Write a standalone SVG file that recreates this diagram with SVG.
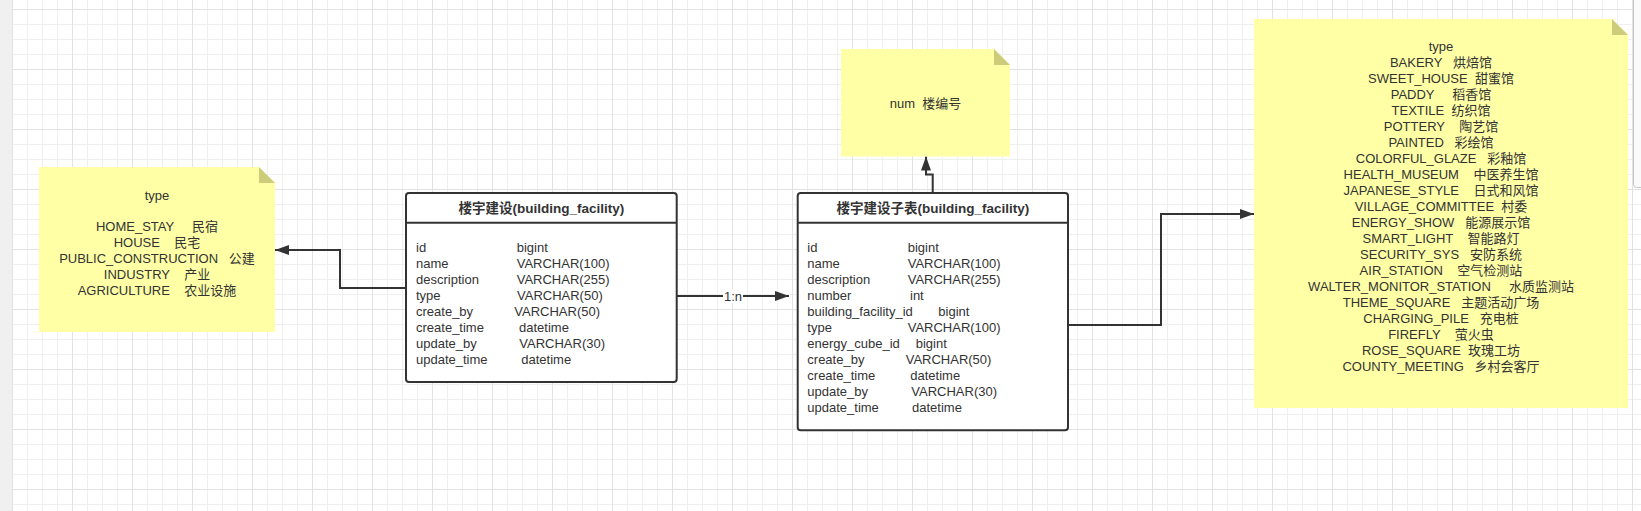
<svg xmlns="http://www.w3.org/2000/svg" width="1641" height="511" viewBox="0 0 1641 511">
<style>
.t{font-family:"Liberation Sans","Noto Sans CJK SC",sans-serif;font-size:13px;fill:#333;white-space:pre}
.c{text-anchor:middle}
.b{font-weight:bold;font-size:13.5px}
.note{fill:#ffffa6}
.fold{fill:#cccc7a}
.tbl{fill:#fff;stroke:#333;stroke-width:2}
.sep{stroke:#333;stroke-width:2}
.edge{fill:none;stroke:#333;stroke-width:2}
</style>
<defs>
<pattern id="grid" x="12" y="9" width="60" height="60" patternUnits="userSpaceOnUse">
<path d="M15.5,0V60M30.5,0V60M45.5,0V60M0,15.5H60M0,30.5H60M0,45.5H60" stroke="#efefef" stroke-width="1" fill="none"/>
<path d="M0.5,0V60M0,0.5H60" stroke="#e2e2e2" stroke-width="1" fill="none"/>
</pattern>
<marker id="arr" viewBox="0 0 14 10" markerWidth="14" markerHeight="10" refX="14" refY="5" orient="auto" markerUnits="userSpaceOnUse">
<path d="M0,0L14,5L0,10Z" fill="#333"/>
</marker>
</defs>
<rect width="1641" height="511" fill="#fff"/>
<rect width="1641" height="511" fill="url(#grid)"/>
<rect x="0" y="0" width="12" height="511" fill="#f0f0f0"/>
<rect x="1633.5" y="-4" width="14" height="191.5" rx="3" fill="#fafafa" stroke="#c6c6c6"/>

<g id="edges">
<path class="edge" d="M406,288H340V250H275" marker-end="url(#arr)"/>
<path class="edge" d="M677,296H789" marker-end="url(#arr)"/>
<rect x="723" y="289" width="20" height="14" fill="#fff"/>
<text class="t c" x="733" y="301">1:n</text>
<path class="edge" d="M932.7,193V174.5H926V156.5" marker-end="url(#arr)"/>
<path class="edge" d="M1068,325H1161V214H1254" marker-end="url(#arr)"/>
</g>

<g id="note-left-type">
<path class="note" d="M39,167H259L275,183V332H39Z"/>
<path class="fold" d="M259,167L275,183H259Z"/>
<text class="t c" x="157" y="199.5">type</text>
<text class="t c" x="157" y="231">HOME_STAY     民宿</text>
<text class="t c" x="157" y="247">HOUSE    民宅</text>
<text class="t c" x="157" y="263">PUBLIC_CONSTRUCTION   公建</text>
<text class="t c" x="157" y="279">INDUSTRY    产业</text>
<text class="t c" x="157" y="295">AGRICULTURE    农业设施</text>
</g>

<g id="table-building-facility">
<rect class="tbl" x="406" y="193" width="270.7" height="189" rx="3"/>
<line class="sep" x1="406" y1="222.7" x2="676.7" y2="222.7"/>
<text class="t c b" x="541.3" y="212.5">楼宇建设(building_facility)</text>
<text class="t" x="416" y="252">id<tspan x="516.7">bigint</tspan></text>
<text class="t" x="416" y="268">name<tspan x="516.7">VARCHAR(100)</tspan></text>
<text class="t" x="416" y="284">description<tspan x="516.7">VARCHAR(255)</tspan></text>
<text class="t" x="416" y="300">type<tspan x="517">VARCHAR(50)</tspan></text>
<text class="t" x="416" y="316">create_by<tspan x="514.3">VARCHAR(50)</tspan></text>
<text class="t" x="416" y="332">create_time<tspan x="519">datetime</tspan></text>
<text class="t" x="416" y="348">update_by<tspan x="519.3">VARCHAR(30)</tspan></text>
<text class="t" x="416" y="364">update_time<tspan x="521.3">datetime</tspan></text>
</g>

<g id="table-building-facility-sub">
<rect class="tbl" x="797.7" y="193" width="270.3" height="237.3" rx="3"/>
<line class="sep" x1="797.7" y1="222.7" x2="1068" y2="222.7"/>
<text class="t c b" x="932.8" y="212.5">楼宇建设子表(building_facility)</text>
<text class="t" x="807.3" y="252">id<tspan x="907.7">bigint</tspan></text>
<text class="t" x="807.3" y="268">name<tspan x="907.7">VARCHAR(100)</tspan></text>
<text class="t" x="807.3" y="284">description<tspan x="907.7">VARCHAR(255)</tspan></text>
<text class="t" x="807.3" y="300">number<tspan x="910">int</tspan></text>
<text class="t" x="807.3" y="316">building_facility_id<tspan x="938.3">bigint</tspan></text>
<text class="t" x="807.3" y="332">type<tspan x="907.7">VARCHAR(100)</tspan></text>
<text class="t" x="807.3" y="348">energy_cube_id<tspan x="915.7">bigint</tspan></text>
<text class="t" x="807.3" y="364">create_by<tspan x="905.7">VARCHAR(50)</tspan></text>
<text class="t" x="807.3" y="380">create_time<tspan x="910.3">datetime</tspan></text>
<text class="t" x="807.3" y="396">update_by<tspan x="911.3">VARCHAR(30)</tspan></text>
<text class="t" x="807.3" y="412">update_time<tspan x="912">datetime</tspan></text>
</g>

<g id="note-num">
<path class="note" d="M841,49H994L1010,65V156.5H841Z"/>
<path class="fold" d="M994,49L1010,65H994Z"/>
<text class="t c" x="925.5" y="108.3">num  楼编号</text>
</g>

<g id="note-right-type">
<path class="note" d="M1254,19H1612L1628,35V408H1254Z"/>
<path class="fold" d="M1612,19L1628,35H1612Z"/>
<text class="t c" x="1441" y="50.7">type</text>
<text class="t c" x="1441" y="66.7">BAKERY   烘焙馆</text>
<text class="t c" x="1441" y="82.7">SWEET_HOUSE  甜蜜馆</text>
<text class="t c" x="1441" y="98.7">PADDY     稻香馆</text>
<text class="t c" x="1441" y="114.7">TEXTILE  纺织馆</text>
<text class="t c" x="1441" y="130.7">POTTERY    陶艺馆</text>
<text class="t c" x="1441" y="146.7">PAINTED   彩绘馆</text>
<text class="t c" x="1441" y="162.7">COLORFUL_GLAZE   彩釉馆</text>
<text class="t c" x="1441" y="178.7">HEALTH_MUSEUM    中医养生馆</text>
<text class="t c" x="1441" y="194.7">JAPANESE_STYLE    日式和风馆</text>
<text class="t c" x="1441" y="210.7">VILLAGE_COMMITTEE  村委</text>
<text class="t c" x="1441" y="226.7">ENERGY_SHOW   能源展示馆</text>
<text class="t c" x="1441" y="242.7">SMART_LIGHT    智能路灯</text>
<text class="t c" x="1441" y="258.7">SECURITY_SYS   安防系统</text>
<text class="t c" x="1441" y="274.7">AIR_STATION    空气检测站</text>
<text class="t c" x="1441" y="290.7">WALTER_MONITOR_STATION     水质监测站</text>
<text class="t c" x="1441" y="306.7">THEME_SQUARE   主题活动广场</text>
<text class="t c" x="1441" y="322.7">CHARGING_PILE   充电桩</text>
<text class="t c" x="1441" y="338.7">FIREFLY    萤火虫</text>
<text class="t c" x="1441" y="354.7">ROSE_SQUARE  玫瑰工坊</text>
<text class="t c" x="1441" y="370.7">COUNTY_MEETING   乡村会客厅</text>
</g>
</svg>
